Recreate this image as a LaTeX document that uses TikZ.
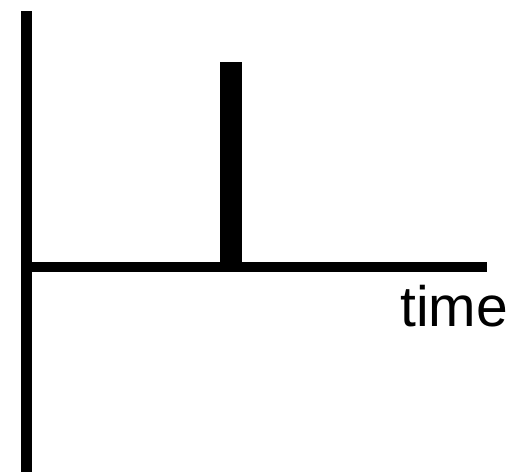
\documentclass[tikz,border=0pt]{standalone}
\usepackage{fontspec}
\setmainfont{Liberation Sans}
\tikzset{axisline/.style={line width=11pt, line cap=butt}, spikebar/.style={fill=black, draw=none}}
\begin{document}
\begin{tikzpicture}[x=1pt,y=-1pt]
\useasboundingbox (0,0) rectangle (512,472);
\coordinate (vtop) at (26,11);
\coordinate (vbot) at (26,472);
\coordinate (hleft) at (26,267);
\coordinate (hright) at (487,267);
\draw[axisline] (vtop) -- (vbot);
\draw[line width=10pt] (hleft) -- (hright);
\fill[spikebar] (220,62) rectangle (242,267);
\node[anchor=base west, inner sep=0, font=\fontsize{57}{62}\selectfont] (t) at (400,326) {time};
\end{tikzpicture}
\end{document}
